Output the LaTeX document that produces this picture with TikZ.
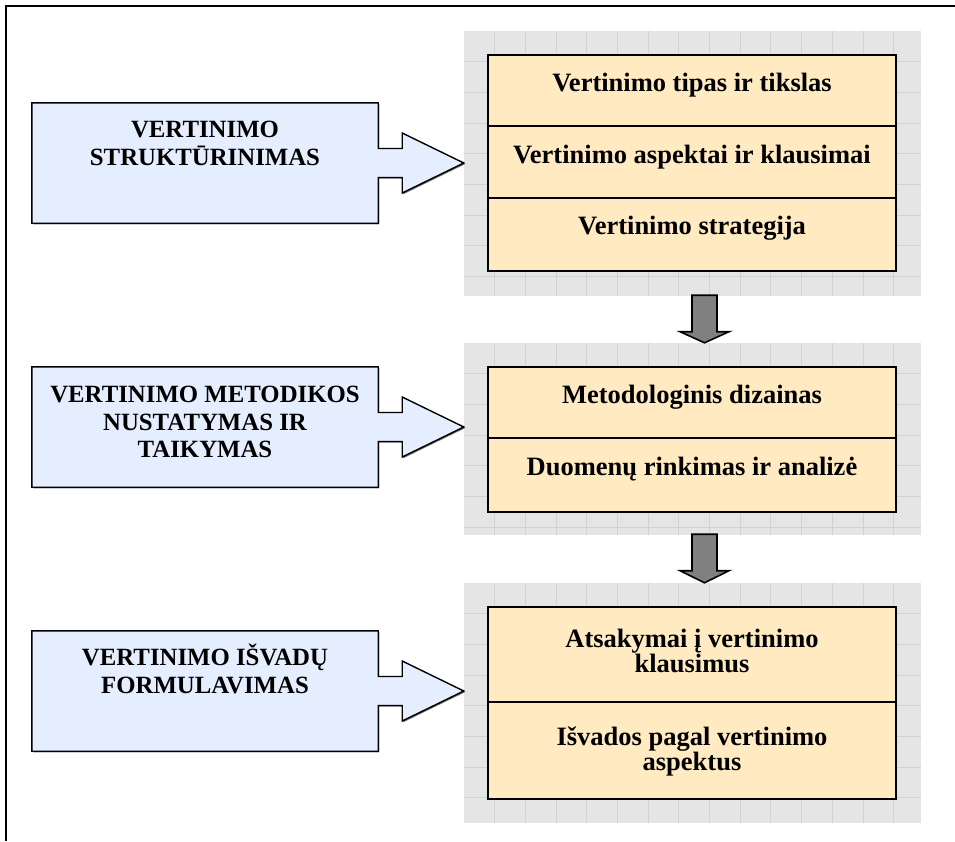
\documentclass[tikz,border=0pt]{standalone}
\usepackage{fontspec}
\setmainfont{Liberation Serif}
\usetikzlibrary{calc,shadows}
\definecolor{bluefill}{RGB}{229,238,255}
\definecolor{orangefill}{RGB}{255,234,194}
\definecolor{panelfill}{RGB}{229,229,229}
\definecolor{gridline}{RGB}{210,210,210}
\definecolor{arrowfill}{RGB}{128,128,128}
\newcommand\oStrut{\rule{0pt}{26pt}}
\newcommand\bStrut{\rule{0pt}{24pt}}
\begin{document}
\begin{tikzpicture}[x=1pt,y=-1pt,
  panel/.style={draw=none, fill=panelfill, inner sep=0, minimum width=457pt},
  gridln/.style={draw=gridline, line width=0.8pt},
  obox/.style={draw=black, line width=1.6pt, fill=orangefill, inner sep=0, minimum width=408pt,
    drop shadow={shadow xshift=1.3pt, shadow yshift=-1.3pt, opacity=1, fill=black!55}},
  divider/.style={draw=black, line width=1.8pt},
  otext/.style={font=\fontsize{26.5}{24}\selectfont\bfseries, align=center, inner sep=0, anchor=north},
  btext/.style={font=\fontsize{24.8}{27.8}\selectfont\bfseries, align=center, inner sep=0, anchor=north},
  cbox/.style={inner sep=0, minimum width=346pt, minimum height=120pt},
  callout/.style={draw=black, line width=1.4pt, fill=bluefill, line join=miter,
    drop shadow={shadow xshift=1.2pt, shadow yshift=-1.2pt, opacity=1, fill=black!55}},
  downarrow/.style={draw=black, line width=1.6pt, fill=arrowfill, line join=miter},
  frameline/.style={draw=black, line width=2pt}
]
\useasboundingbox (0,0) rectangle (955,841);
\fill[white] (0,0) rectangle (955,841);
\draw[frameline] (955,6) -- (6,6) -- (6,841);

% grey grid panels
\node[panel, minimum height=265pt] (p1) at (692.5,163.5) {};
\node[panel, minimum height=192pt] (p2) at (692.5,439) {};
\node[panel, minimum height=240pt] (p3) at (692.5,703) {};
\foreach \p in {p1,p2,p3}{
  \begin{scope}
    \clip (\p.north west) rectangle (\p.south east);
    \foreach \i in {1,...,14}
      \draw[gridln] ($(\p.north west)+(\i*30.7,0)$) -- ($(\p.south west)+(\i*30.7,0)$);
    \foreach \j in {1,...,8}
      \draw[gridln] ($(\p.north west)+(0,\j*30.7)$) -- ($(\p.north east)+(0,\j*30.7)$);
  \end{scope}
}

% orange boxes
\node[obox, minimum height=216pt] (o1) at (692,163) {};
\draw[divider] ($(o1.north west)+(0,72)$) -- ($(o1.north east)+(0,72)$);
\draw[divider] ($(o1.north west)+(0,144)$) -- ($(o1.north east)+(0,144)$);
\node[obox, minimum height=145pt] (o2) at (692,439.5) {};
\draw[divider] ($(o2.north west)+(0,72)$) -- ($(o2.north east)+(0,72)$);
\node[obox, minimum height=192pt] (o3) at (692,703) {};
\draw[divider] ($(o3.north west)+(0,96)$) -- ($(o3.north east)+(0,96)$);

\node[otext] (t1a) at (692,65) {\oStrut Vertinimo tipas ir tikslas};
\node[otext] (t1b) at (692,137) {\oStrut Vertinimo aspektai ir klausimai};
\node[otext] (t1c) at (692,208) {\oStrut Vertinimo strategija};
\node[otext] (t2a) at (692,377) {\oStrut Metodologinis dizainas};
\node[otext] (t2b) at (692,449) {\oStrut Duomenų rinkimas ir analizė};
\node[otext] (t3a) at (692,621) {\oStrut Atsakymai į vertinimo\\klausimus};
\node[otext] (t3b) at (692,719) {\oStrut Išvados pagal vertinimo\\aspektus};

% blue callouts
\node[cbox] (c1) at (205,163) {};
\node[cbox] (c2) at (205,427) {};
\node[cbox] (c3) at (205,691) {};
\foreach \c/\p in {c1/p1,c2/p2,c3/p3}
  \filldraw[callout] (\c.north west) -- (\c.north east) -- ($(\c.east)+(0,-14.5)$)
    -- ($(\c.east)+(24,-14.5)$) -- ($(\c.east)+(24,-30)$) -- (\p.west |- \c.east)
    -- ($(\c.east)+(24,30)$) -- ($(\c.east)+(24,14.5)$) -- ($(\c.east)+(0,14.5)$)
    -- (\c.south east) -- (\c.south west) -- cycle;
\node[btext] (b1) at (205,113) {\bStrut VERTINIMO\\STRUKTŪRINIMAS};
\node[btext] (b2) at (205,378) {\bStrut VERTINIMO METODIKOS\\NUSTATYMAS IR\\TAIKYMAS};
\node[btext] (b3) at (205,641) {\bStrut VERTINIMO IŠVADŲ\\FORMULAVIMAS};

% grey down arrows
\foreach \a/\b in {p1/p2,p2/p3}
  \filldraw[downarrow] ($(\a.south)+(-0.5,-1)$) -- ($(\a.south)+(24.5,-1)$)
    -- ($(\a.south)+(24.5,35.5)$) -- ($(\a.south)+(36.5,35.5)$) -- ($(\b.north)+(12,0)$)
    -- ($(\a.south)+(-12.5,35.5)$) -- ($(\a.south)+(-0.5,35.5)$) -- cycle;
\end{tikzpicture}
\end{document}
